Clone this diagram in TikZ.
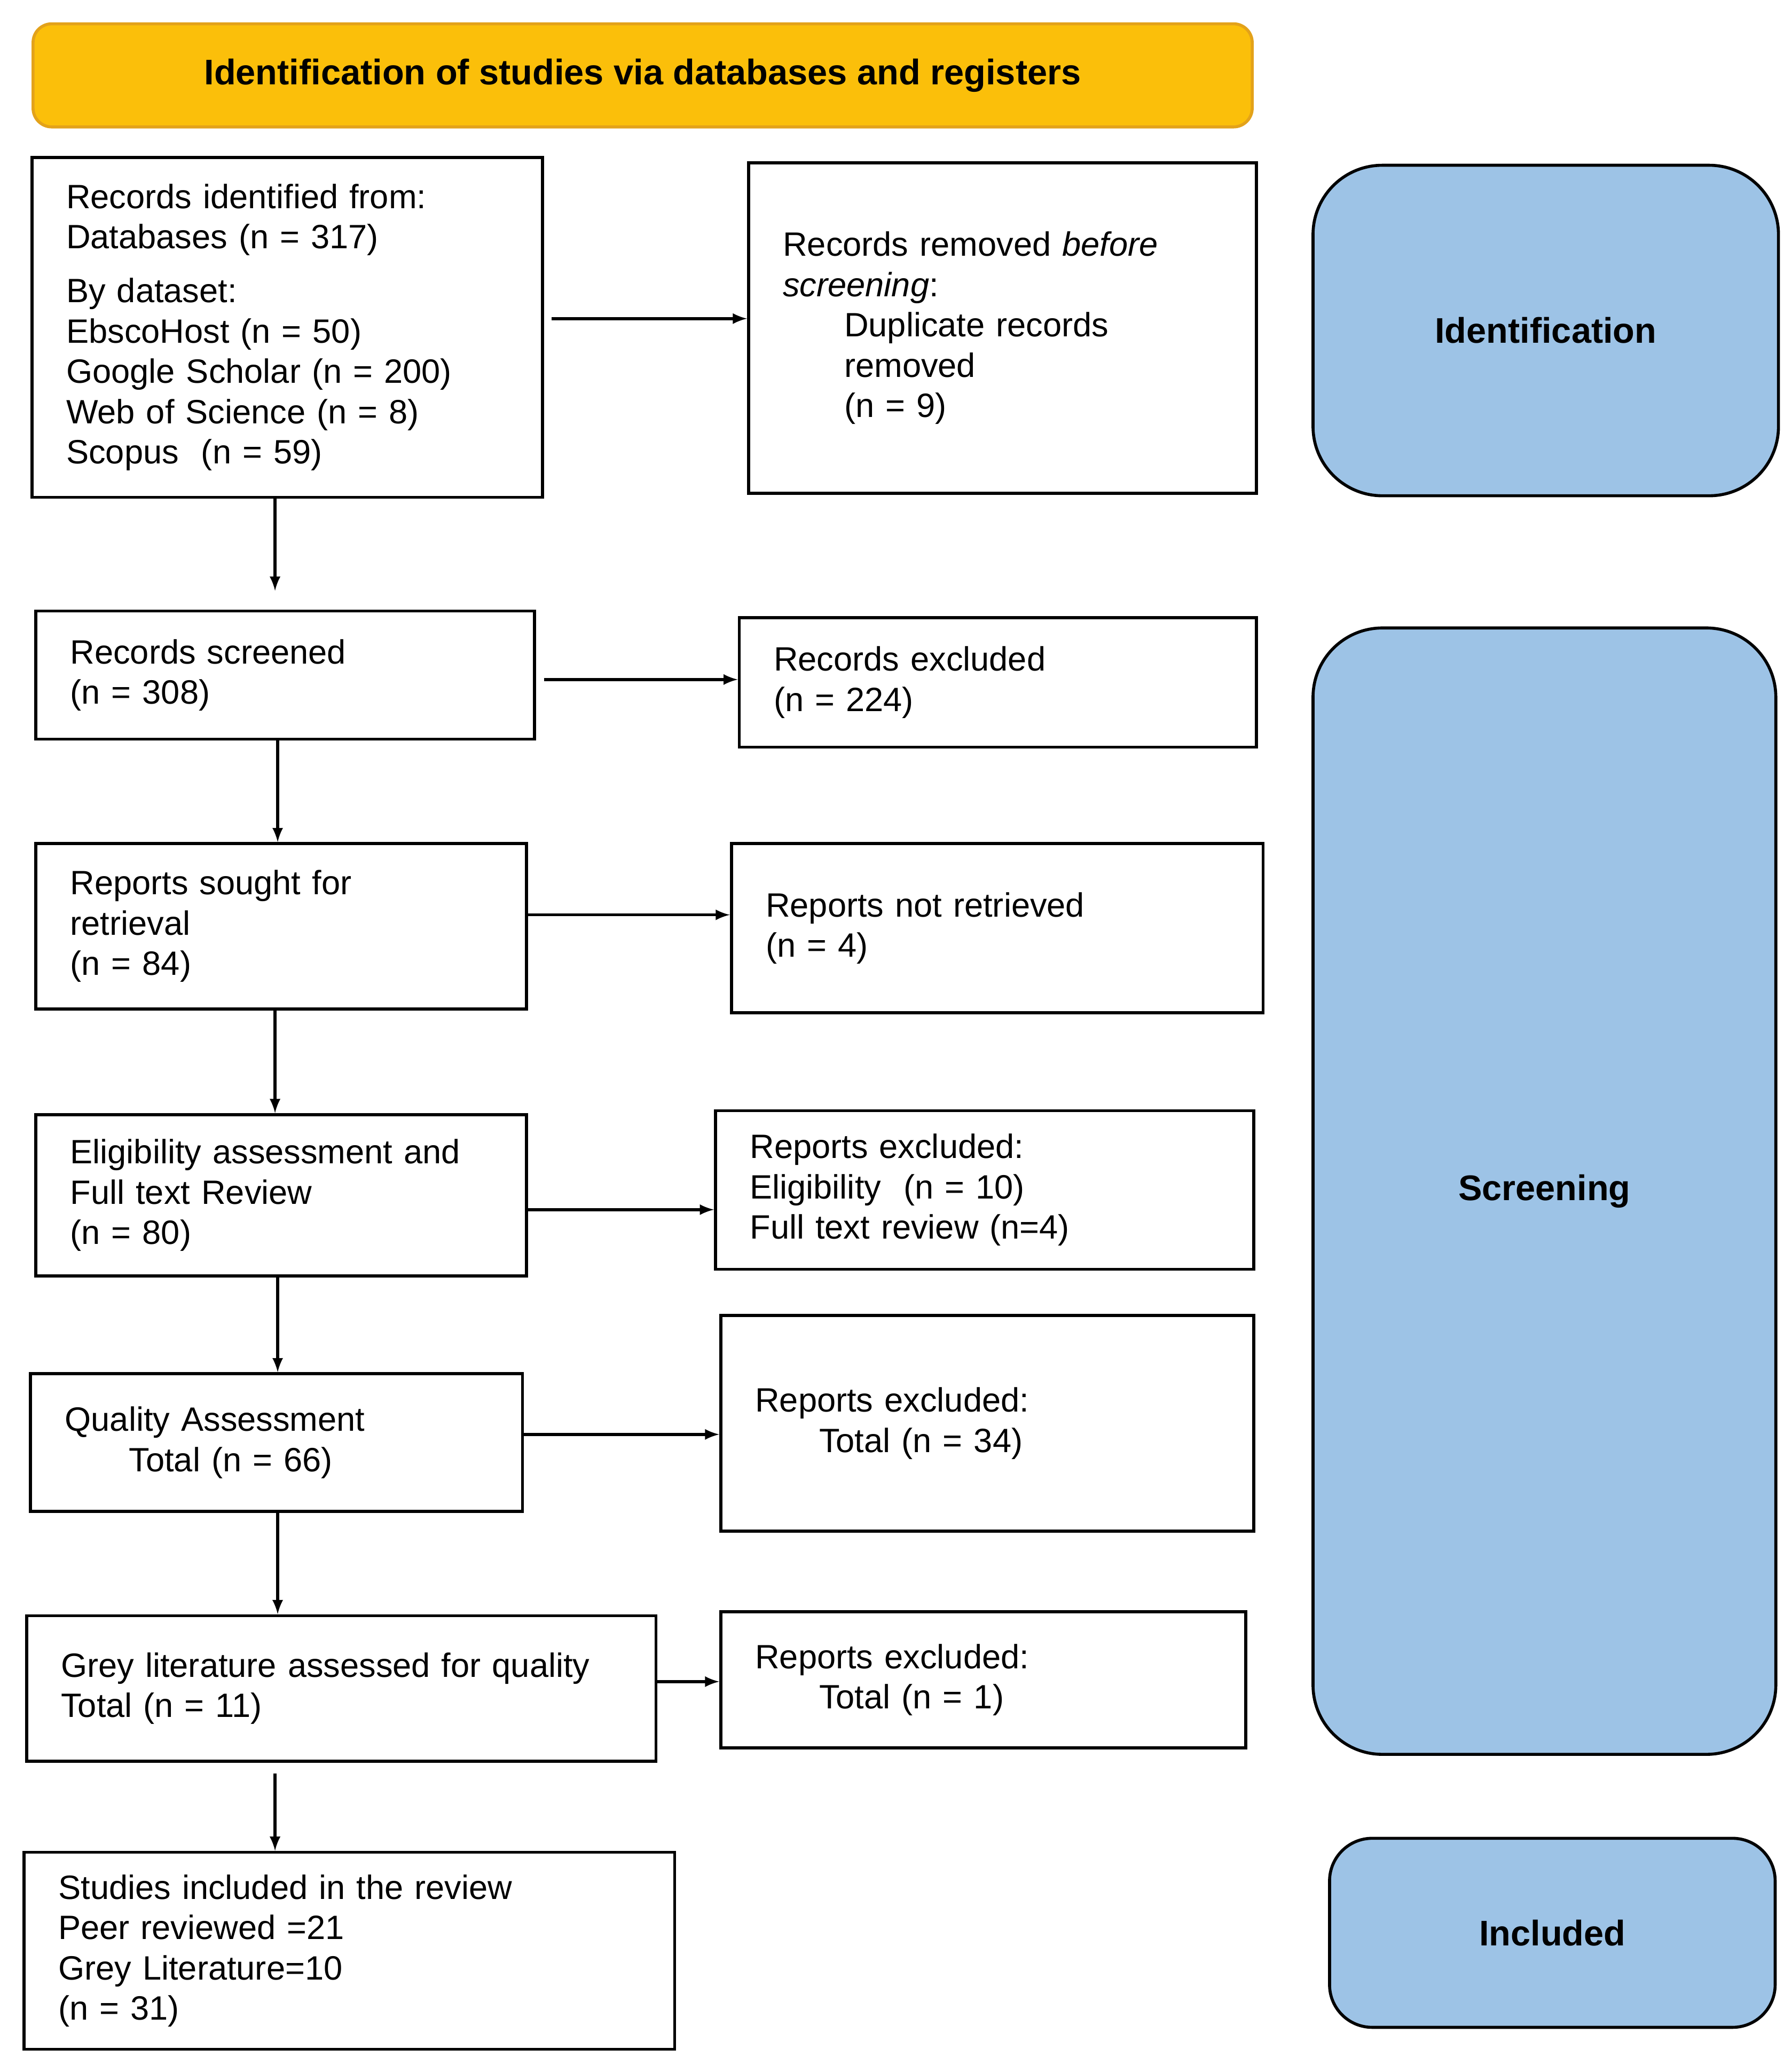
\documentclass[tikz,border=0pt]{standalone}
\usepackage{fontspec}
\setmainfont{Liberation Sans}
\usetikzlibrary{positioning}

\definecolor{titlefill}{HTML}{FBBF0A}
\definecolor{titleline}{HTML}{E3A21A}
\definecolor{phasefill}{HTML}{9DC3E6}

% box from corner (x1,y1) to (x2,y2), picture units
\newcommand{\prbox}[6]{%
  \pgfmathsetmacro\bw{(#4-#2)*0.0248}%
  \pgfmathsetmacro\bh{(#5-#3)*0.0248}%
  \pgfmathsetmacro\tw{(#4-#2-52)*0.0248}%
  \node[box, anchor=north west, minimum width=\bw cm, minimum height=\bh cm,
        text width=\tw cm] (#1) at (#2,#3) {#6};}

\begin{document}
\begin{tikzpicture}[x=0.0248cm, y=-0.0248cm,
  box/.style={draw, line width=1.6pt, inner xsep=0.645cm, inner ysep=0pt, align=left,
    font=\fontsize{18}{21.5}\selectfont},
  phase/.style={draw, line width=1.6pt, rounded corners=1.3cm, fill=phasefill,
    font=\fontsize{19}{23}\selectfont\bfseries},
  arr/.style={-latex, line width=1.6pt}]
\useasboundingbox (0,0) rectangle (1355,1562);

% heading
\node[draw=titleline, fill=titlefill, line width=1.6pt, rounded corners=0.35cm,
  minimum width=922*0.0248cm, minimum height=78*0.0248cm,
  font=\fontsize{19}{23}\selectfont\bfseries] (title) at (486,57)
  {Identification of studies via databases and registers};

% phases
\node[phase, minimum width=352*0.0248cm, minimum height=250*0.0248cm] (ident) at (1169,250) {Identification};
\node[phase, minimum width=350*0.0248cm, minimum height=852*0.0248cm] (screen) at (1168,901) {Screening};
\node[phase, rounded corners=0.8cm, minimum width=337*0.0248cm, minimum height=143*0.0248cm] (incl) at (1174,1462) {Included};

% main column
\prbox{recid}{23}{118}{409}{375}{Records identified from:\\Databases (n = 317)\\[0.4em]By dataset:\\EbscoHost (n = 50)\\Google Scholar (n = 200)\\Web of Science (n = 8)\\Scopus~ (n = 59)}
\prbox{screened}{26}{461}{403}{558}{Records screened\\(n = 308)}
\prbox{sought}{26}{637}{397}{762}{Reports sought for\\retrieval\\(n = 84)}
\prbox{elig}{26}{842}{397}{964}{Eligibility assessment and\\Full text Review\\(n = 80)}
\prbox{quality}{22}{1038}{394}{1142}{Quality Assessment\\\hspace*{1.2cm}Total (n = 66)}
\prbox{grey}{19}{1221}{495}{1331}{Grey literature assessed for quality\\Total (n = 11)}
\prbox{included}{17}{1400}{509}{1549}{Studies included in the review\\Peer reviewed =21\\Grey Literature=10\\(n = 31)}

% exclusions
\prbox{removed}{565}{122}{949}{372}{Records removed \textit{before}\\\textit{screening}:\\\hspace*{1.15cm}Duplicate records\\\hspace*{1.15cm}removed\\\hspace*{1.15cm}(n = 9)}
\prbox{excl}{558}{466}{949}{564}{Records excluded\\(n = 224)}
\prbox{notret}{552}{637}{954}{765}{Reports not retrieved\\(n = 4)}
\prbox{exelig}{540}{839}{947}{959}{Reports excluded:\\Eligibility~ (n = 10)\\Full text review (n=4)}
\prbox{exqual}{544}{994}{947}{1157}{Reports excluded:\\\hspace*{1.2cm}Total (n = 34)}
\prbox{exgrey}{544}{1218}{941}{1321}{Reports excluded:\\\hspace*{1.2cm}Total (n = 1)}

% flow
\draw[arr, shorten >=0.35cm] (recid.south -| 208,0) -- (screened.north -| 208,0);
\draw[arr] (screened.south -| 210,0) -- (sought.north -| 210,0);
\draw[arr] (sought.south -| 208,0) -- (elig.north -| 208,0);
\draw[arr] (elig.south -| 210,0) -- (quality.north -| 210,0);
\draw[arr] (quality.south -| 210,0) -- (grey.north -| 210,0);
\draw[arr, shorten <=0.2cm] (grey.south -| 208,0) -- (included.north -| 208,0);

\draw[arr, shorten <=0.15cm] (recid.east |- 0,241) -- (removed.west |- 0,241);
\draw[arr, shorten <=0.15cm] (screened.east |- 0,514) -- (excl.west |- 0,514);
\draw[arr] (sought.east |- 0,692) -- (notret.west |- 0,692);
\draw[arr] (elig.east |- 0,915) -- (exelig.west |- 0,915);
\draw[arr] (quality.east |- 0,1085) -- (exqual.west |- 0,1085);
\draw[arr] (grey.east |- 0,1272) -- (exgrey.west |- 0,1272);
\end{tikzpicture}
\end{document}
